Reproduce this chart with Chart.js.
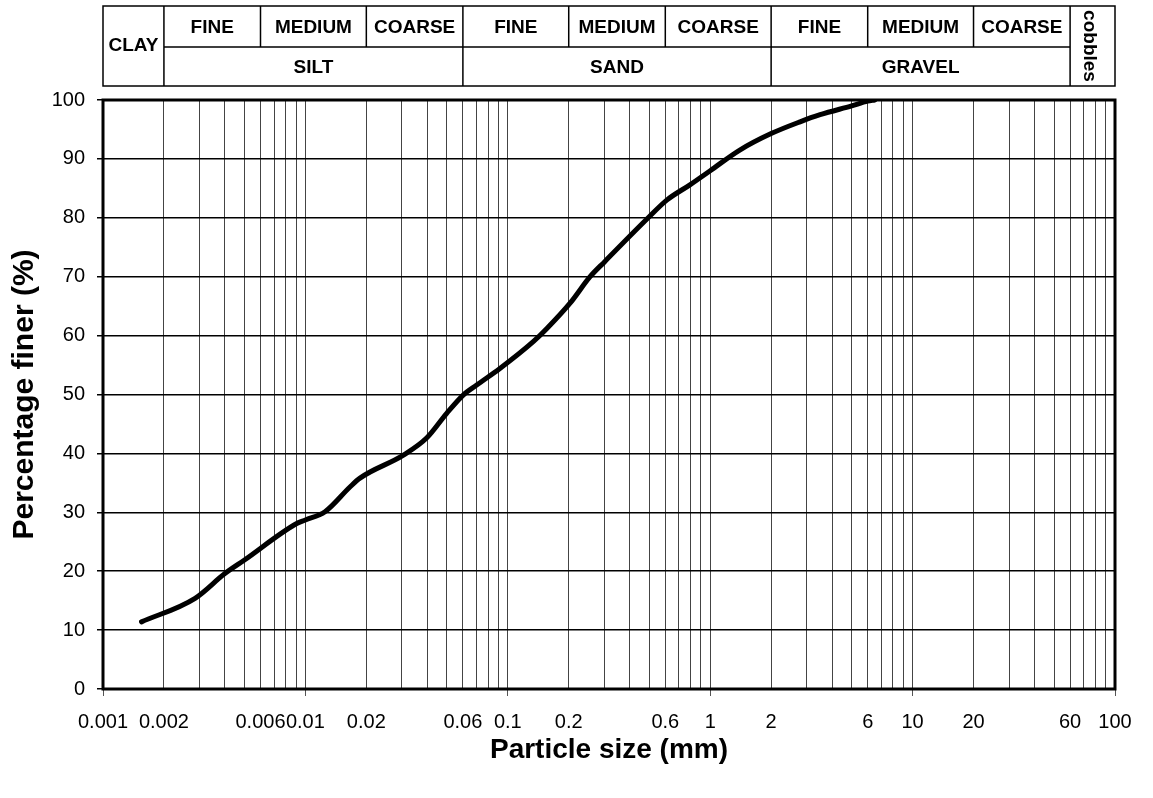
<!DOCTYPE html>
<html>
<head>
<meta charset="utf-8">
<title>Particle size distribution</title>
<script src="https://cdn.jsdelivr.net/npm/chart.js@4.4.1/dist/chart.umd.min.js"></script>
<style>
  html, body { margin: 0; padding: 0; background: #fff; }
  canvas { display: block; }
</style>
</head>
<body>
<canvas id="grading" width="1153" height="798"></canvas>
<script>
// sieve / hydrometer result: particle size (mm) vs percentage finer
const sizesMm = [0.00155, 0.00285, 0.0040, 0.0050, 0.00906, 0.0100, 0.0125, 0.0166, 0.0186,
  0.0305, 0.0397, 0.0499, 0.0602, 0.0702, 0.0914, 0.134, 0.156, 0.203, 0.255, 0.302,
  0.494, 0.61, 0.794, 1.0, 1.4, 2.0, 2.78, 3.49, 5.0, 6.0, 6.5];
const pctFiner = [11.4, 15.4, 19.6, 21.9, 28.1, 28.7, 30.1, 34.3, 35.8,
  39.7, 42.6, 46.8, 49.9, 51.6, 54.4, 59.0, 61.2, 65.5, 70.0, 72.6,
  80.0, 83.0, 85.6, 88.0, 91.5, 94.3, 96.3, 97.5, 99.0, 99.8, 100];

// axis labels
const xLabelVals = [0.001, 0.002, 0.006, 0.01, 0.02, 0.06, 0.1, 0.2, 0.6, 1, 2, 6, 10, 20, 60, 100];
const decades = [0.001, 0.01, 0.1, 1, 10, 100];
const yTickStep = 10;

// soil classification bands (mm)
const clayRange = [0.001, 0.002];
const soilNames = ['SILT', 'SAND', 'GRAVEL'];
const soilLimits = [0.002, 0.06, 2, 60];
const gradeNames = ['FINE', 'MEDIUM', 'COARSE'];
const gradeLimits = [0.002, 0.006, 0.02, 0.06, 0.2, 0.6, 2, 6, 20, 60];
const cobbleRange = [60, 100];

const FONT = 'Arial, "Liberation Sans", sans-serif';

// 1..9 x each decade for the log grid
const gridVals = decades.flatMap(d => [1, 2, 3, 4, 5, 6, 7, 8, 9].map(m => +(d * m).toPrecision(3)))
  .filter(v => v <= 100);

const near = (a, b) => Math.abs(a - b) <= Math.abs(b) * 1e-6;
const isDecade = v => decades.some(d => near(v, d));

const whiteBg = {
  id: 'whiteBg',
  beforeDraw(chart) {
    const { ctx } = chart;
    ctx.save();
    ctx.fillStyle = '#fff';
    ctx.fillRect(0, 0, chart.width, chart.height);
    ctx.restore();
  }
};

// thick frame round the plot
const plotFrame = {
  id: 'plotFrame',
  afterDatasetsDraw(chart) {
    const { ctx, chartArea: a } = chart;
    ctx.save();
    ctx.strokeStyle = '#000';
    ctx.lineWidth = 3;
    ctx.strokeRect(a.left, a.top, a.right - a.left, a.bottom - a.top);
    ctx.restore();
  }
};

// classification table above the plot, columns taken from the x scale
const soilTable = {
  id: 'soilTable',
  afterDraw(chart, args, opts) {
    const { ctx } = chart;
    const x = chart.scales.x;
    const px = v => x.getPixelForValue(v);
    const top = opts.top, mid = opts.mid, bottom = opts.bottom;
    const left = px(clayRange[0]), right = px(cobbleRange[1]);

    ctx.save();
    ctx.strokeStyle = '#000';
    ctx.lineWidth = 1.5;
    ctx.strokeRect(left, top, right - left, bottom - top);

    ctx.beginPath();
    soilLimits.forEach(v => { ctx.moveTo(px(v), top); ctx.lineTo(px(v), bottom); });
    gradeLimits.filter(v => !soilLimits.includes(v)).forEach(v => {
      ctx.moveTo(px(v), top); ctx.lineTo(px(v), mid);
    });
    ctx.moveTo(px(soilLimits[0]), mid);
    ctx.lineTo(px(soilLimits[soilLimits.length - 1]), mid);
    ctx.stroke();

    ctx.fillStyle = '#000';
    ctx.font = 'bold 19px ' + FONT;
    ctx.textAlign = 'center';
    ctx.textBaseline = 'middle';

    ctx.fillText('CLAY', (px(clayRange[0]) + px(clayRange[1])) / 2, (top + bottom) / 2);
    for (let i = 0; i < gradeLimits.length - 1; i++) {
      const cx = (px(gradeLimits[i]) + px(gradeLimits[i + 1])) / 2;
      ctx.fillText(gradeNames[i % 3], cx, (top + mid) / 2 + 1);
    }
    soilNames.forEach((name, i) => {
      const cx = (px(soilLimits[i]) + px(soilLimits[i + 1])) / 2;
      ctx.fillText(name, cx, (mid + bottom) / 2 + 1);
    });

    ctx.translate((px(cobbleRange[0]) + px(cobbleRange[1])) / 2 - 3, (top + bottom) / 2);
    ctx.rotate(Math.PI / 2);
    ctx.fillText('cobbles', 0, 0);
    ctx.restore();
  }
};

new Chart(document.getElementById('grading'), {
  type: 'line',
  data: {
    datasets: [{
      data: sizesMm.map((s, i) => ({ x: s, y: pctFiner[i] })),
      borderColor: '#000',
      borderWidth: 5,
      pointRadius: 0,
      fill: false,
      cubicInterpolationMode: 'monotone',
      borderCapStyle: 'round',
      borderJoinStyle: 'round'
    }]
  },
  options: {
    responsive: false,
    animation: false,
    layout: { padding: { top: 100, right: 38, left: 0, bottom: 0 } },
    plugins: {
      legend: { display: false },
      tooltip: { enabled: false },
      soilTable: { top: 6, mid: 47, bottom: 86 }
    },
    scales: {
      x: {
        type: 'logarithmic',
        min: 0.001,
        max: 100,
        afterBuildTicks: scale => { scale.ticks = gridVals.map(v => ({ value: v })); },
        afterFit: scale => { scale.height = 109; },
        border: { display: false },
        grid: {
          color: '#444',
          lineWidth: 1,
          tickLength: 7,
          tickColor: ctx => (ctx.tick && isDecade(ctx.tick.value)) ? '#555' : 'rgba(0,0,0,0)'
        },
        ticks: {
          autoSkip: false,
          maxRotation: 0,
          padding: 14,
          color: '#000',
          font: { family: FONT, size: 20 },
          callback: value => {
            const hit = xLabelVals.find(v => near(value, v));
            return hit === undefined ? '' : String(hit);
          }
        },
        title: {
          display: true,
          text: 'Particle size (mm)',
          color: '#000',
          font: { family: FONT, size: 28, weight: 'bold' },
          padding: { top: 4, bottom: 31 }
        }
      },
      y: {
        min: 0,
        max: 100,
        afterFit: scale => { scale.width = 103; },
        border: { display: false },
        grid: { color: '#000', lineWidth: 1.5, tickLength: 6, tickColor: '#000' },
        ticks: {
          stepSize: yTickStep,
          padding: 12,
          color: '#000',
          font: { family: FONT, size: 20 }
        },
        title: {
          display: true,
          text: 'Percentage finer (%)',
          color: '#000',
          font: { family: FONT, size: 30, weight: 'bold' },
          padding: { top: 7, bottom: 0 }
        }
      }
    }
  },
  plugins: [whiteBg, plotFrame, soilTable]
});
</script>
</body>
</html>
